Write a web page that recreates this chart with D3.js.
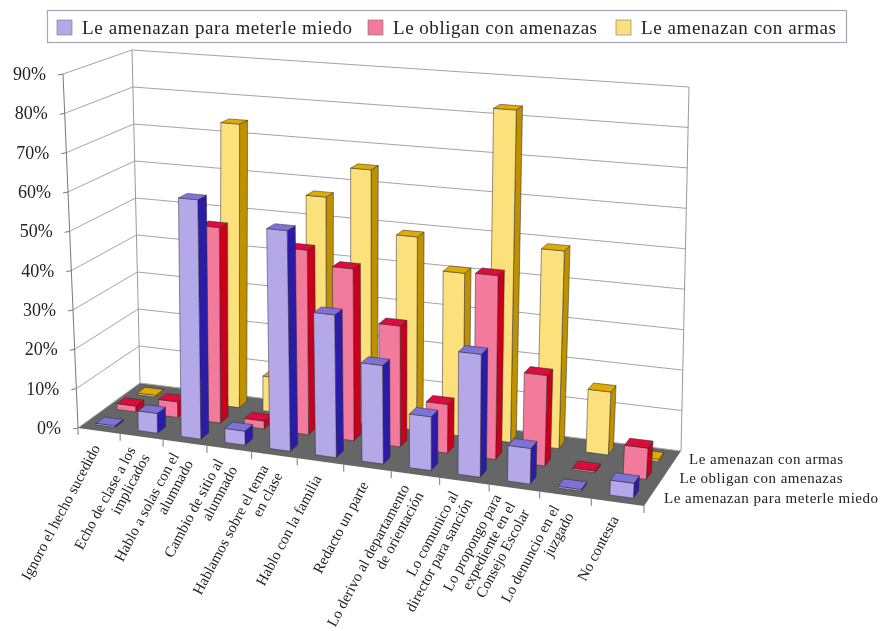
<!DOCTYPE html>
<html><head><meta charset="utf-8">
<script src="https://cdn.jsdelivr.net/npm/d3@7/dist/d3.min.js"></script>
<style>html,body{margin:0;background:#fff}svg{display:block}text{font-family:"Liberation Serif",serif;fill:#222}</style>
</head><body><svg id="c" width="882" height="631"></svg>
<script>
const categories=[["Ignoro el hecho sucedido"],["Echo de clase a los","implicados"],["Hablo a solas con el","alumnado"],["Cambio de sitio al","alumnado"],["Hablamos sobre el tema","en clase"],["Hablo con la familia"],["Redacto un parte"],["Lo derivo al departamento","de orientación"],["Lo comunico al","director para sanción"],["Lo propongo para","expediente en el","Consejo Escolar"],["Lo denuncio en el","juzgado"],["No contesta"]];
const seriesNames=["Le amenazan para meterle miedo","Le obligan con amenazas","Le amenazan con armas"];
const miedo=[0.4,5,60,3.5,54.5,35,24,13,29.5,8.5,0.4,3.5];
const obligan=[1.5,4,50,2,46.5,43,30,12,45,22,0.4,7.5];
const armas=[0.4,1,74,9,57,65,49,41,83,49,15.5,0.5];
const ticks=d3.range(0,100,10);
const faceCol=["#b5a8e8","#f27a9c","#fbe07c"];
const sideCol=["#2a1fa6","#c8001e","#bf9000"];
const topCol=["#7f72d6","#dc0a3c","#e0aa00"];
const valuesBySeries=[miedo,obligan,armas];

const svg=d3.select("#c");
svg.append("defs").append("filter").attr("id","b").attr("x",0).attr("y",0).attr("width","100%").attr("height","100%")
 .append("feGaussianBlur").attr("stdDeviation",0.7);
const g=svg.append("g").attr("filter","url(#b)");
g.append("rect").attr("width",882).attr("height",631).attr("fill","#fff");

// projective frame: corners front-left, front-right, back-right, back-left
const floorQ=[[78,428],[644,506],[681,451],[140,383]];
const topQ=[[63,74],[651,120],[689,87],[132,50]];
const barTopQ=[[77,74],[665,120],[703,87],[146,50]];
function homography(q){
 const [[x0,y0],[x1,y1],[x2,y2],[x3,y3]]=q;
 const dx1=x1-x2,dx2=x3-x2,sx=x0-x1+x2-x3,dy1=y1-y2,dy2=y3-y2,sy=y0-y1+y2-y3;
 const d=dx1*dy2-dx2*dy1;
 const a13=(sx*dy2-dx2*sy)/d,a23=(dx1*sy-sx*dy1)/d;
 const a11=x1-x0+a13*x1,a21=x3-x0+a23*x3,a12=y1-y0+a13*y1,a22=y3-y0+a23*y3;
 return (u,v)=>{const w=a13*u+a23*v+1;return [(a11*u+a21*v+x0)/w,(a12*u+a22*v+y0)/w];};
}
const hF=homography(floorQ),hT=homography(topQ),hB=homography(barTopQ);
const zScale=d3.scaleLinear().domain([0,90]).range([0,1]);
const uBand=d3.scaleBand().domain(d3.range(categories.length)).range([0,1]).paddingInner(0.55).paddingOuter(0.275);
const uStep=d3.scaleLinear().domain([0,categories.length]).range([0,1]);
const vBand=d3.scaleBand().domain(d3.range(3)).range([0,1]).paddingInner(0.6).paddingOuter(0.3);
function mix(h,u,v,val){const a=hF(u,v),b=h(u,v),t=zScale(val);return [a[0]+(b[0]-a[0])*t,a[1]+(b[1]-a[1])*t];}
const P=(u,v,val)=>mix(hT,u,v,val), B=(u,v,val)=>mix(hB,u,v,val);
const line=d3.line();
const poly=p=>line(p)+"Z";

// floor
g.append("path").attr("d",poly([P(0,0,0),P(1,0,0),P(1,1,0),P(0,1,0)])).attr("fill","#666");
// gridlines
const gridG=g.append("g").attr("fill","none").attr("stroke","#a4a4a4").attr("stroke-width",1);
ticks.forEach(t=>{
 gridG.append("path").attr("d",line([P(0,0,t),P(0,1,t),P(1,1,t)]));
});
[[0,0],[0,1],[1,1]].forEach(([u,v])=>gridG.append("path").attr("d",line([P(u,v,0),P(u,v,90)])).attr("stroke",u==0&&v==0?"#777":"#999"));
// value ticks + labels
const axG=g.append("g");
ticks.forEach(t=>{
 const p=P(0,0,t);
 axG.append("path").attr("d",line([[p[0]-5,p[1]+1],p])).attr("stroke","#777").attr("fill","none");
 axG.append("text").attr("x",p[0]-17).attr("y",p[1]+6).attr("text-anchor","end").attr("font-size",18).text(t+"%");
});
// category ticks
d3.range(categories.length+1).forEach(i=>{
 const p=P(uStep(i),0,0);
 axG.append("path").attr("d",line([p,[p[0],p[1]+7]])).attr("stroke","#777").attr("fill","none");
});
// bars
const bars=[];
[2,1,0].forEach(s=>categories.forEach((c,i)=>bars.push({s,i,val:valuesBySeries[s][i]})));
const bg=g.selectAll("g.bar").data(bars).join("g").attr("class","bar").attr("stroke","#2a2a30").attr("stroke-width",0.5).attr("stroke-linejoin","round");
bg.each(function(d){
 const u0=uBand(d.i),u1=u0+uBand.bandwidth(),v0=vBand(d.s),v1=v0+vBand.bandwidth(),sel=d3.select(this);
 sel.append("path").attr("fill",sideCol[d.s]).attr("d",poly([B(u1,v0,0),B(u1,v1,0),B(u1,v1,d.val),B(u1,v0,d.val)]));
 sel.append("path").attr("fill",faceCol[d.s]).attr("d",poly([B(u0,v0,0),B(u1,v0,0),B(u1,v0,d.val),B(u0,v0,d.val)]));
 sel.append("path").attr("fill",topCol[d.s]).attr("d",poly([B(u0,v0,d.val),B(u1,v0,d.val),B(u1,v1,d.val),B(u0,v1,d.val)]));
});
// category labels
const lh=16;
categories.forEach((lines,i)=>{
 const p=P(uStep(i+0.5),0,0);
 const t=g.append("g").attr("transform",`translate(${p[0]-2},${p[1]+15}) rotate(-62)`);
 lines.forEach((l,k)=>t.append("text").attr("font-size",15).attr("y",(k-(lines.length-1)/2)*lh+4).attr("text-anchor","end").text(l));
});
// depth labels
const depthLbl=[[771,503,214],[761,483,163],[766,464,154]];
seriesNames.forEach((n,s)=>{
 const [x,y,w]=depthLbl[s];
 g.append("text").attr("x",x).attr("y",y).attr("text-anchor","middle").attr("font-size",15).attr("textLength",w).attr("lengthAdjust","spacing").text(n);
});
// legend
const legG=g.append("g");
legG.append("rect").attr("x",47.5).attr("y",10.5).attr("width",799).attr("height",32).attr("fill","#fff").attr("stroke","#9fa8b4").attr("stroke-width",1.2);
const legX=[57,368,616],legT=[82,393,641],legW=[270,204,195];
seriesNames.forEach((n,s)=>{
 legG.append("rect").attr("x",legX[s]).attr("y",20).attr("width",15).attr("height",15).attr("fill",faceCol[s]).attr("stroke","#777").attr("stroke-width",0.6);
 legG.append("text").attr("x",legT[s]).attr("y",34).attr("font-size",19).attr("textLength",legW[s]).attr("lengthAdjust","spacing").text(n);
});
</script></body></html>
